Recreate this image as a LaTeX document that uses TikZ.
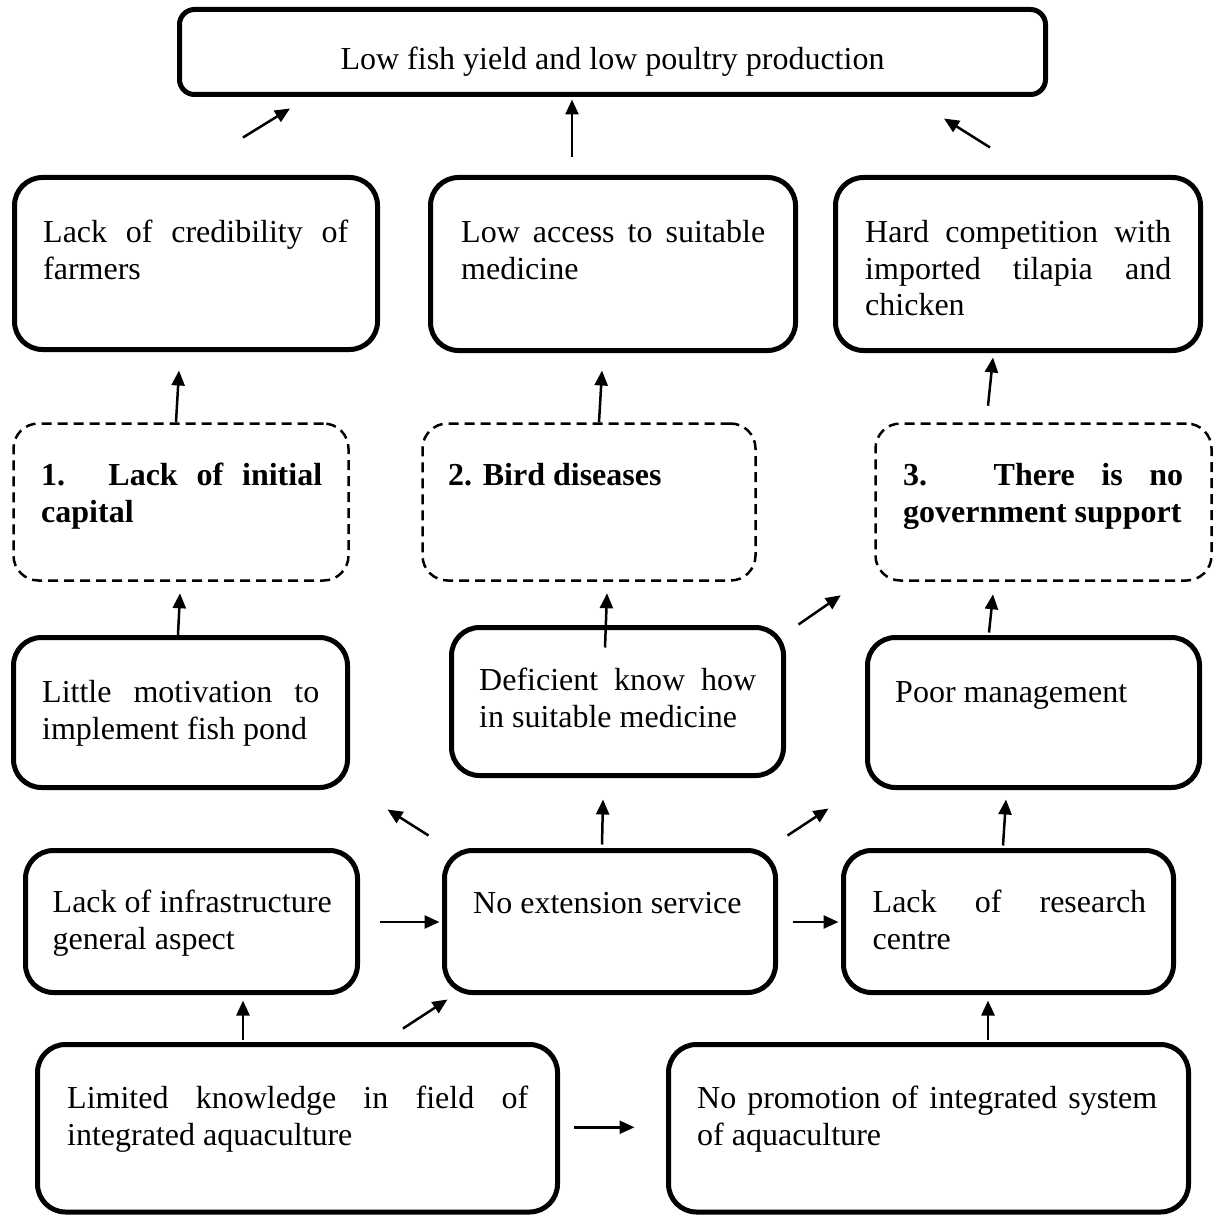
\documentclass[tikz,border=0pt]{standalone}
\usepackage{fontspec}
\setmainfont{Liberation Serif}
\usetikzlibrary{arrows.meta,calc}
\newcommand{\jline}[2]{\hbox to #1pt{\strut #2}}
\newcommand{\sline}[1]{\hbox{\strut #1}}
\begin{document}
\begin{tikzpicture}[x=1pt,y=-1pt,
  box/.style={draw, line width=5pt, rounded corners=28pt, inner sep=0pt},
  dbox/.style={draw, line width=2.5pt, dash pattern=on 10pt off 6pt, rounded corners=25pt, inner sep=0pt},
  txt/.style={inner sep=0pt, anchor=north west, align=left, font=\fontsize{32}{36.8}\selectfont},
  btxt/.style={txt, font=\fontsize{32}{36.8}\selectfont\bfseries},
  arr/.style={line width=2.5pt, -{Triangle[length=15pt,width=13pt]}}]
\useasboundingbox (0,0) rectangle (1215,1217);

% boxes
\node[box, rounded corners=15pt, minimum width=866pt, minimum height=85pt] (top) at (612.5,52) {};
\node[box, minimum width=363pt, minimum height=172pt] (a) at (196,263.5) {};
\node[box, minimum width=365pt, minimum height=173pt] (b) at (613,264) {};
\node[box, minimum width=365pt, minimum height=173pt] (c) at (1018,264) {};
\node[dbox, minimum width=335pt, minimum height=157pt] (d1) at (181,502) {};
\node[dbox, minimum width=333pt, minimum height=157pt] (d2) at (589,502) {};
\node[dbox, minimum width=336pt, minimum height=157pt] (d3) at (1043.5,502) {};
\node[box, minimum width=334pt, minimum height=150pt] (e) at (180.5,712.5) {};
\node[box, minimum width=332pt, minimum height=148pt] (f) at (617.5,701.5) {};
\node[box, minimum width=332pt, minimum height=150pt] (g) at (1033.5,712.5) {};
\node[box, minimum width=332pt, minimum height=142pt] (h) at (191.5,921.5) {};
\node[box, minimum width=331pt, minimum height=142pt] (i) at (610,921.5) {};
\node[box, minimum width=330pt, minimum height=142pt] (j) at (1008.5,921.5) {};
\node[box, minimum width=520pt, minimum height=167.5pt] (k) at (297.5,1128.25) {};
\node[box, minimum width=520pt, minimum height=167.5pt] (l) at (928.5,1128.25) {};

% texts
\node[txt, anchor=base] (ttop) at (612.5,70) {Low fish yield and low poultry production};
\node[txt] (ta) at (43,216.24) {\jline{305}{Lack of credibility of}\\\sline{farmers}};
\node[txt] (tb) at (461,216.24) {\jline{304}{Low access to suitable}\\\sline{medicine}};
\node[txt] (tc) at (865,216.24) {\jline{306}{Hard competition with}\\\jline{306}{imported tilapia and}\\\sline{chicken}};
\node[btxt] (td1) at (41,459.24) {\jline{281}{1. Lack of initial}\\\sline{capital}};
\node[btxt] (td2) at (448,459.24) {\sline{2. Bird diseases}};
\node[btxt] (td3) at (903,459.24) {\jline{280}{3. There is no}\\\sline{government support}};
\node[txt] (te) at (42,676.24) {\jline{277}{Little motivation to}\\\sline{implement fish pond}};
\node[txt] (tf) at (479,664.24) {\jline{277}{Deficient know how}\\\sline{in suitable medicine}};
\node[txt] (tg) at (895,676.24) {\sline{Poor management}};
\node[txt] (th) at (52.5,886.24) {\sline{Lack of infrastructure}\\\sline{general aspect}};
\node[txt] (ti) at (473,887.24) {\sline{No extension service}};
\node[txt] (tj) at (872.5,886.24) {\jline{273.5}{Lack of research}\\\sline{centre}};
\node[txt] (tk) at (67,1082.24) {\jline{461}{Limited knowledge in field of}\\\sline{integrated aquaculture}};
\node[txt] (tl) at (697,1082.24) {\jline{460}{No promotion of integrated system}\\\sline{of aquaculture}};

% arrows
\draw[arr] ($(a.north)+(47,-37.5)$) -- ($(top.south)+(-322.5,11.5)$);
\draw[arr] ($(b.north)+(-41,-17.5)$) -- ($(top.south)+(-40.5,2.5)$);
\draw[arr] ($(c.north)+(-28,-27.5)$) -- ($(top.south)+(331.5,21.5)$);
\draw[arr] ($(d1.north)+(-5,0)$) -- ($(a.south)+(-17,18.5)$);
\draw[arr] ($(d2.north)+(10,0)$) -- ($(b.south)+(-11,17.5)$);
\draw[arr] ($(d3.north)+(-55.5,-16.5)$) -- ($(c.south)+(-25,4.5)$);
\draw[arr] ($(e.north)+(-2.5,0)$) -- ($(d1.south)+(-1,11.5)$);
\draw[arr] ($(f.north)+(-12.5,22.5)$) -- ($(d2.south)+(18,11.5)$);
\draw[arr] ($(f.north east)+(12.5,-0.5)$) -- ($(d3.south west)+(-33.5,13.5)$);
\draw[arr] ($(g.north)+(-44.5,-2.5)$) -- ($(d3.south)+(-50.5,12.5)$);
\draw[arr] ($(i.north west)+(-13.5,-12.5)$) -- ($(e.south east)+(37.5,19.5)$);
\draw[arr] ($(i.north)+(-8,-3.5)$) -- ($(f.south)+(-14.5,21.5)$);
\draw[arr] ($(i.north east)+(9.5,-12.5)$) -- ($(g.south west)+(-36.5,18.5)$);
\draw[arr] ($(j.north)+(-5.5,-2.5)$) -- ($(g.south)+(-27.5,9.5)$);
\draw[arr] ($(h.east)+(19.5,0.5)$) -- ($(i.west)+(-2.5,0.5)$);
\draw[arr] ($(i.east)+(14.5,0.5)$) -- ($(j.west)+(-2.5,0.5)$);
\draw[arr] ($(k.north)+(-54.5,-2.5)$) -- ($(h.south)+(51.5,5.5)$);
\draw[arr] ($(k.north)+(105.5,-13.5)$) -- ($(i.south west)+(5.5,4.5)$);
\draw[arr] ($(l.north)+(59.5,-2.5)$) -- ($(j.south)+(-20.5,5.5)$);
\draw[arr] ($(k.east)+(13.5,-1)$) -- ($(l.west)+(-31.5,-1)$);
\end{tikzpicture}
\end{document}
